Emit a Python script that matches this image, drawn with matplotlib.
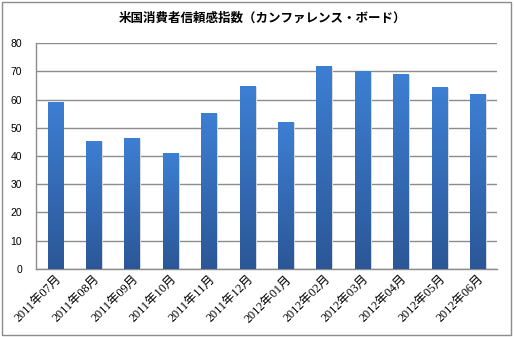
import numpy as np
import matplotlib.pyplot as plt
from matplotlib.colors import LinearSegmentedColormap
from matplotlib.patches import Rectangle

# 米国消費者信頼感指数（月次）
months = ['2011年07月', '2011年08月', '2011年09月', '2011年10月', '2011年11月', '2011年12月',
          '2012年01月', '2012年02月', '2012年03月', '2012年04月', '2012年05月', '2012年06月']
values = [59.2, 45.2, 46.4, 40.9, 55.2, 64.8, 52.0, 72.0, 70.0, 69.0, 64.5, 62.0]
yticks = [0, 10, 20, 30, 40, 50, 60, 70, 80]

plt.rcParams['font.family'] = ['Liberation Sans', 'Noto Sans CJK JP']

fig = plt.figure(figsize=(5.14, 3.37), dpi=100)
ax = fig.add_axes([0.070, 0.202, 0.897, 0.670])

# 外枠
fig.patches.append(Rectangle((0.004, 0.006), 0.990, 0.988, transform=fig.transFigure,
                             fill=False, edgecolor='#8c8c8c', linewidth=1.0))

x = np.arange(len(values))
bars = ax.bar(x, values, width=0.4, color='none', edgecolor='none', zorder=3)

grad = LinearSegmentedColormap.from_list('bar_grad', ['#2b5797', '#3d7fd3'])
ramp = np.linspace(0, 1, 256).reshape(-1, 1)
for b in bars:
    bx, by = b.get_x(), b.get_y()
    bw, bh = b.get_width(), b.get_height()
    # 影
    ax.add_patch(Rectangle((bx + 0.04, by), bw, bh - 0.3, facecolor='#d9d9d9',
                           edgecolor='none', zorder=2))
    im = ax.imshow(ramp, cmap=grad, aspect='auto', origin='lower',
                   extent=[bx, bx + bw, by, by + bh], zorder=3)
    im.set_clip_path(b)

ax.set_xlim(-0.5, len(values) - 0.5)
ax.set_ylim(0, 80)
ax.set_yticks(yticks)
ax.yaxis.grid(True, color='#8c8c8c', linewidth=1.0, zorder=0)
ax.set_axisbelow(True)

for side in ['top', 'right']:
    ax.spines[side].set_visible(False)
for side in ['left', 'bottom']:
    ax.spines[side].set_color('#8c8c8c')
    ax.spines[side].set_linewidth(1.0)

ax.tick_params(axis='y', length=0, pad=10, labelsize=7.5, colors='black')
ax.tick_params(axis='x', length=0, pad=3)
ax.set_xticks(x)
ax.set_xticklabels(months, rotation=45, ha='right', rotation_mode='anchor',
                   fontsize=8.8, family=['Liberation Serif', 'Noto Sans CJK JP'])

fig.text(0.51, 0.945, '米国消費者信頼感指数（カンファレンス・ボード）', ha='center', va='center',
         fontsize=9, fontweight='bold', family=['Noto Sans CJK JP'])

fig.savefig('out.png', dpi=100)
